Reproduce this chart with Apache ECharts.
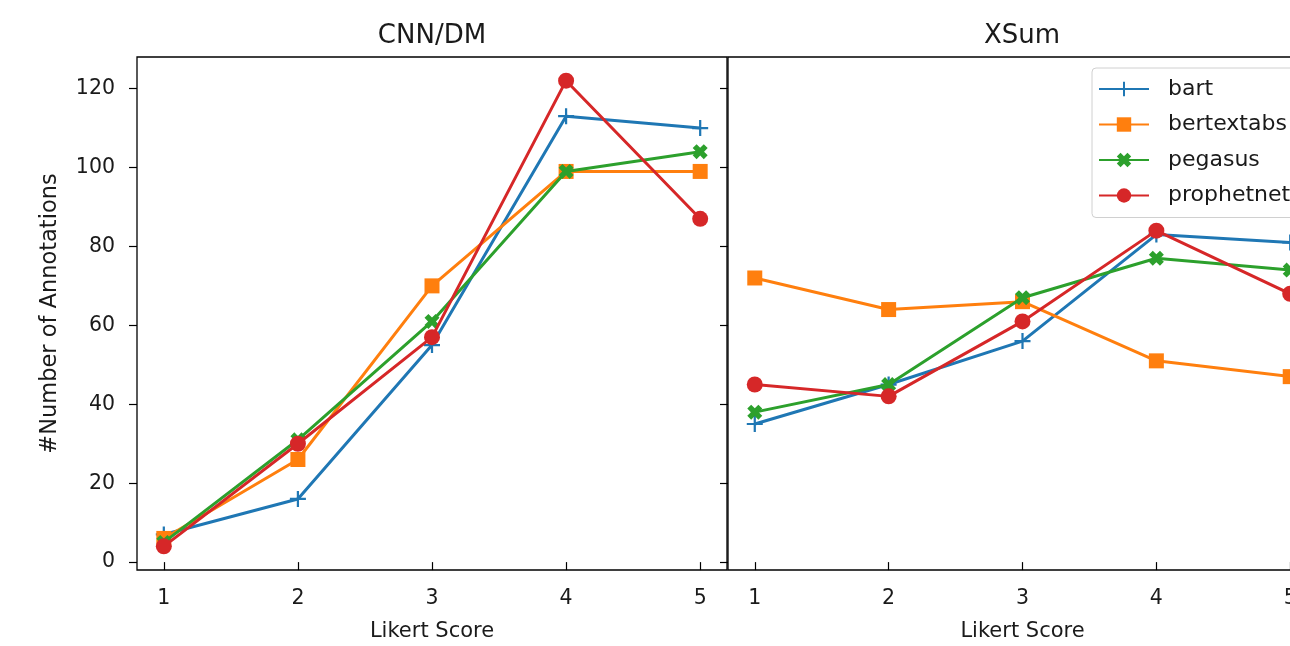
<!DOCTYPE html>
<html>
<head>
<meta charset="utf-8">
<script src="https://cdn.jsdelivr.net/npm/echarts@6/dist/echarts.min.js"></script>
<style>
html,body{margin:0;padding:0;background:#fff;}
#chart{width:1290px;height:646px;}
</style>
</head>
<body>
<div id="chart"></div>
<script>
const scores = [1, 2, 3, 4, 5];
const yTicks = [0, 20, 40, 60, 80, 100, 120];
const seriesNames = ['bart', 'bertextabs', 'pegasus', 'prophetnet'];
const panelTitles = ['CNN/DM', 'XSum'];

const cnnBart       = [7, 16, 55, 113, 110];
const cnnBertextabs = [6, 26, 70, 99, 99];
const cnnPegasus    = [5, 31, 61, 99, 104];
const cnnProphetnet = [4, 30, 57, 122, 87];

const xsumBart       = [35, 45, 56, 83, 81];
const xsumBertextabs = [72, 64, 66, 51, 47];
const xsumPegasus    = [38, 45, 67, 77, 74];
const xsumProphetnet = [45, 42, 61, 84, 68];

const colors = ['#1f77b4', '#ff7f0e', '#2ca02c', '#d62728'];
const symbols = [
  'path://M6.2,0 H8.2 V6.2 H14.4 V8.2 H8.2 V14.4 H6.2 V8.2 H0 V6.2 H6.2 Z',
  'rect',
  'path://M0,2.6 L2.6,0 L5,2.4 L7.4,0 L10,2.6 L7.6,5 L10,7.4 L7.4,10 L5,7.6 L2.6,10 L0,7.4 L2.4,5 Z',
  'circle'
];
const symbolSizes = [16, 15, 15, 16];

const font = 'DejaVu Sans';
const txt = '#1a1a1a';

const panels = [
  [cnnBart, cnnBertextabs, cnnPegasus, cnnProphetnet],
  [xsumBart, xsumBertextabs, xsumPegasus, xsumProphetnet]
];

const grids = [
  {left: 137, top: 57, width: 590, height: 513},
  {left: 728, top: 57, width: 589, height: 513}
];

const xAxes = grids.map((g, i) => ({
  type: 'value', gridIndex: i, min: 0.8, max: 5.2,
  name: 'Likert Score', nameLocation: 'middle', nameGap: 51,
  nameTextStyle: {fontFamily: font, fontSize: 21, color: txt},
  axisLine: {show: false},
  splitLine: {show: false},
  axisTick: {show: true, length: 8, customValues: scores, lineStyle: {color: '#000', width: 1.2}},
  axisLabel: {show: true, customValues: scores, margin: 18, fontFamily: font, fontSize: 20.5, color: txt}
}));

const yAxes = grids.map((g, i) => ({
  type: 'value', gridIndex: i, min: -2, max: 128,
  name: i === 0 ? '#Number of Annotations' : '', nameLocation: 'middle', nameGap: 75,
  nameTextStyle: {fontFamily: font, fontSize: 22.5, color: txt},
  axisLine: {show: false},
  splitLine: {show: false},
  axisTick: {show: true, length: 8, customValues: yTicks, lineStyle: {color: '#000', width: 1.2}},
  axisLabel: {show: i === 0, customValues: yTicks, margin: 22, fontFamily: font, fontSize: 20.5, color: txt}
}));

const series = [];
panels.forEach((panel, p) => {
  panel.forEach((vals, s) => {
    series.push({
      type: 'line', name: seriesNames[s], xAxisIndex: p, yAxisIndex: p,
      data: scores.map((x, k) => [x, vals[k]]),
      symbol: symbols[s], symbolSize: symbolSizes[s],
      showAllSymbol: true,
      lineStyle: {color: colors[s], width: 3},
      itemStyle: {color: colors[s]},
      z: 2 + s,
      animation: false
    });
  });
});

const chart = echarts.init(document.getElementById('chart'), null, {renderer: 'canvas'});
chart.setOption({
  backgroundColor: '#fff',
  animation: false,
  title: [
    {text: panelTitles[0], left: 432, top: 23, padding: 0, textAlign: 'center', textStyle: {fontFamily: font, fontSize: 26, fontWeight: 'normal', color: txt}},
    {text: panelTitles[1], left: 1022, top: 23, padding: 0, textAlign: 'center', textStyle: {fontFamily: font, fontSize: 26, fontWeight: 'normal', color: txt}}
  ],
  grid: grids.map(g => Object.assign({show: true, borderColor: '#000', borderWidth: 1.3, backgroundColor: 'transparent', outerBoundsMode: 'none', containLabel: false}, g)),
  xAxis: xAxes,
  yAxis: yAxes,
  legend: {
    data: seriesNames,
    orient: 'vertical', left: 1092, top: 68,
    padding: [9, 20, 10, 6],
    itemWidth: 50, itemHeight: 18, itemGap: 11.5,
    backgroundColor: 'rgba(255,255,255,0.8)',
    borderColor: '#d0d0d0', borderWidth: 1, borderRadius: 4,
    textStyle: {fontFamily: font, fontSize: 22, color: txt, lineHeight: 24, padding: [0, 0, 0, 14]}
  },
  series: series
});
</script>
</body>
</html>
